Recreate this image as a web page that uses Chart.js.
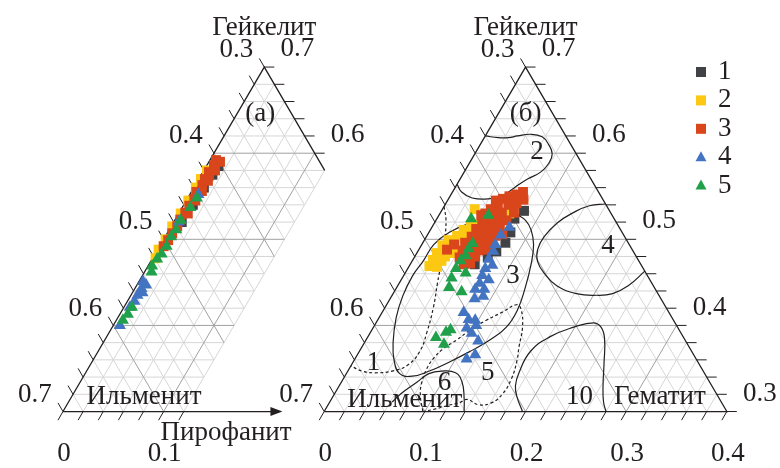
<!DOCTYPE html>
<html><head><meta charset="utf-8">
<script src="https://cdn.jsdelivr.net/npm/chart.js@4.4.1/dist/chart.umd.min.js"></script>
<style>html,body{margin:0;padding:0;background:#fff}canvas{display:block}</style>
</head><body>
<canvas id="c" width="780" height="468"></canvas>
<script>
// Ternary values: [c, b]  c = Пирофанит (bottom axis), b = right-axis fraction, left-axis = 1 - b - c
const panelA_series1 = [[0.010,0.560],[0.009,0.540],[0.011,0.575],[0.008,0.520],[0.012,0.585]];
const panelA_series2 = [[0.002,0.570],[0.002,0.560],[0.002,0.545],[0.002,0.530],[0.001,0.515],[0.002,0.500],[0.001,0.488],[0.003,0.478],[0.003,0.580]];
const panelA_series3 = [[0.006,0.592],[0.007,0.586],[0.006,0.578],[0.008,0.574],[0.006,0.570],[0.007,0.563],[0.005,0.555],[0.007,0.547],[0.006,0.539],[0.006,0.531],[0.005,0.523],[0.006,0.515],[0.005,0.507],[0.005,0.499],[0.004,0.492],[0.011,0.590],[0.011,0.580],[0.010,0.568],[0.010,0.556],[0.009,0.545],[0.009,0.530]];
const panelA_series4 = [[0.0085,0.552],[0.005,0.520],[0.004,0.451],[0.009,0.447],[0.0065,0.443],[0.010,0.438],[0.0065,0.435],[0.007,0.428],[0.006,0.421],[0.0065,0.400]];
const panelA_series5 = [[0.009,0.548],[0.008,0.537],[0.006,0.522],[0.007,0.511],[0.006,0.503],[0.007,0.492],[0.0065,0.483],[0.005,0.477],[0.004,0.469],[0.007,0.462],[0.008,0.421],[0.008,0.413],[0.0065,0.406]];

const panelB_series1 = [[0.082,0.533],[0.077,0.524],[0.081,0.508],[0.082,0.496],[0.078,0.486],[0.073,0.479],[0.064,0.471]];
const panelB_series2 = [[0.032,0.535],[0.069,0.530],[0.020,0.469],[0.028,0.468],[0.020,0.476],[0.029,0.475],[0.020,0.484],[0.030,0.480],[0.021,0.493],[0.024,0.499],[0.030,0.504],[0.036,0.484],[0.033,0.511],[0.038,0.515],[0.044,0.517],[0.035,0.502],[0.041,0.505],[0.034,0.492]];
const panelB_series3 = [[0.054,0.547],[0.059,0.550],[0.065,0.552],[0.070,0.555],[0.075,0.546],[0.070,0.542],[0.063,0.540],[0.053,0.539],[0.048,0.535],[0.045,0.530],[0.054,0.529],[0.061,0.531],[0.073,0.531],[0.070,0.522],[0.062,0.522],[0.054,0.521],[0.047,0.520],[0.045,0.512],[0.053,0.512],[0.060,0.513],[0.068,0.513],[0.074,0.506],[0.068,0.504],[0.060,0.504],[0.052,0.504],[0.045,0.503],[0.042,0.496],[0.051,0.495],[0.059,0.495],[0.066,0.496],[0.067,0.488],[0.060,0.487],[0.052,0.487],[0.044,0.487],[0.045,0.479],[0.053,0.479],[0.060,0.480],[0.059,0.472],[0.053,0.471],[0.028,0.488],[0.032,0.494],[0.048,0.545],[0.042,0.528]];
const panelB_series4 = [[0.077,0.514],[0.073,0.505],[0.073,0.494],[0.075,0.486],[0.075,0.477],[0.082,0.470],[0.077,0.466],[0.078,0.458],[0.087,0.453],[0.080,0.449],[0.079,0.442],[0.088,0.442],[0.084,0.431],[0.091,0.434],[0.081,0.415],[0.090,0.407],[0.097,0.406],[0.093,0.397],[0.101,0.400],[0.101,0.391],[0.112,0.382],[0.117,0.366],[0.111,0.361]];
const panelB_series5 = [[0.034,0.524],[0.049,0.528],[0.050,0.495],[0.049,0.489],[0.050,0.481],[0.048,0.475],[0.048,0.466],[0.060,0.461],[0.049,0.455],[0.052,0.444],[0.067,0.439],[0.068,0.386],[0.075,0.392],[0.078,0.395],[0.080,0.378]];

// Contour lines (panel б)
const contour2 = [[0,0.620],[0.014,0.618],[0.024,0.618],[0.032,0.620],[0.044,0.622],[0.057,0.619],[0.068,0.610],[0.077,0.599],[0.079,0.588],[0.076,0.578],[0.067,0.570],[0.059,0.560],[0.052,0.551],[0.040,0.547],[0.023,0.548],[0.009,0.555],[0,0.564]];
const contour4 = [[0.159,0.541],[0.144,0.539],[0.132,0.531],[0.122,0.519],[0.117,0.503],[0.118,0.488],[0.125,0.474],[0.139,0.460],[0.158,0.446],[0.182,0.437],[0.203,0.435],[0.218,0.437],[0.229,0.446],[0.237,0.463]];
const contour3 = [[0.075,0.530],[0.089,0.522],[0.100,0.511],[0.111,0.494],[0.120,0.471],[0.128,0.443],[0.133,0.418],[0.132,0.398],[0.123,0.383],[0.109,0.369],[0.095,0.357],[0.081,0.347],[0.067,0.341],[0.053,0.344],[0.040,0.359],[0.028,0.381],[0.017,0.409],[0.011,0.434],[0.009,0.457],[0.011,0.475],[0.012,0.494],[0.020,0.508],[0.038,0.520],[0.059,0.528],[0.075,0.530]];
const contour1 = [[0,0.538],[0.010,0.522],[0.020,0.499],[0.029,0.475],[0.038,0.449],[0.048,0.421],[0.056,0.392],[0.060,0.370],[0.056,0.354],[0.044,0.347],[0.028,0.345],[0.014,0.347],[0,0.353]];
const contour5 = [[0.098,0.300],[0.086,0.319],[0.080,0.334],[0.077,0.350],[0.078,0.363],[0.082,0.373],[0.090,0.383],[0.098,0.395],[0.108,0.406],[0.120,0.416],[0.129,0.424],[0.136,0.419],[0.148,0.398],[0.156,0.375],[0.162,0.359],[0.167,0.338],[0.167,0.321],[0.161,0.310],[0.149,0.308],[0.135,0.314],[0.129,0.310],[0.119,0.307],[0.109,0.303],[0.098,0.300]];
const contour6 = [[0.062,0.311],[0.066,0.321],[0.075,0.334],[0.082,0.344],[0.093,0.347],[0.108,0.345],[0.120,0.334],[0.131,0.316],[0.139,0.300]];
const contour10 = [[0.197,0.300],[0.183,0.317],[0.175,0.330],[0.171,0.345],[0.170,0.370],[0.181,0.387],[0.199,0.398],[0.216,0.403],[0.226,0.398],[0.236,0.385],[0.250,0.356],[0.262,0.330],[0.272,0.311],[0.280,0.300]];

// Contour labels [text, c, b]
const contourLabels = [["2",0.061,0.601],["3",0.109,0.457],["4",0.186,0.492],["1",0.021,0.356],["5",0.140,0.345],["6",0.103,0.333],["10",0.245,0.317]];

// Tick labels
const leftLabelsA = [0.3,0.4,0.5,0.6,0.7];
const rightLabelsA = [0.7,0.6];
const bottomLabelsA = [0,0.1];
const leftLabelsB = [0.3,0.4,0.5,0.6,0.7];
const rightLabelsB = [0.7,0.6,0.5,0.4,0.3];
const bottomLabelsB = [0,0.1,0.2,0.3,0.4];
const legendLabels = ["1","2","3","4","5"];

const COLORS = ['#404245','#fcc812','#d9461c','#4374c1','#20a04a'];
const STYLES = ['rect','rect','rect','triangle','triangle'];
const ORDERS = [5,4,3,2,1];

const SQ3 = Math.sqrt(3);
const OFF_A = 0, OFF_B = 266/1025;
const CMAX_A = 0.12, CMAX_B = 0.4;
const ARROW_C = 0.218;
function tx(off, c, b){ return {x: off + c + (b-0.3)/2, y: (b-0.3)*SQ3/2}; }
const pts = (off, arr) => arr.map(p => tx(off, p[0], p[1]));

function series(off, arr, i){
  return {label: legendLabels[i], data: pts(off, arr), backgroundColor: COLORS[i], borderColor: COLORS[i],
    pointStyle: STYLES[i], pointRadius: 7, pointHoverRadius: 7, pointBorderWidth: 0, borderWidth: 0,
    showLine: false, order: ORDERS[i]};
}
function contour(arr, dashed){
  return {label: '', data: pts(OFF_B, arr), showLine: true, borderColor: '#231f20', borderWidth: 1.2,
    borderDash: dashed ? [3,2.5] : [], pointRadius: 0, pointHoverRadius: 0, tension: 0.45, fill: false, order: 10};
}

const datasets = [
  contour(contour2,false), contour(contour4,false), contour(contour3,false), contour(contour6,false), contour(contour10,false),
  contour(contour1,true), contour(contour5,true),
  series(OFF_A, panelA_series1, 0), series(OFF_A, panelA_series2, 1), series(OFF_A, panelA_series3, 2), series(OFF_A, panelA_series4, 3), series(OFF_A, panelA_series5, 4),
  series(OFF_B, panelB_series1, 0), series(OFF_B, panelB_series2, 1), series(OFF_B, panelB_series3, 2), series(OFF_B, panelB_series4, 3), series(OFF_B, panelB_series5, 4)
];

const INK = '#231f20';
const FONT = '27px "Liberation Serif", "Times New Roman", serif';

function px(chart, off, c, b){
  const p = tx(off, c, b);
  return [chart.scales.x.getPixelForValue(p.x), chart.scales.y.getPixelForValue(p.y)];
}
function isMajor(v){ return Math.abs(v*10 - Math.round(v*10)) < 1e-6; }

function drawGrid(chart, off, cmax){
  const ctx = chart.ctx;
  [false, true].forEach(major => {
    ctx.beginPath();
    const add = (c1,b1,c2,b2) => { const p1 = px(chart,off,c1,b1), p2 = px(chart,off,c2,b2); ctx.moveTo(p1[0],p1[1]); ctx.lineTo(p2[0],p2[1]); };
    for (let k = 1; k < 20; k++){
      const v = +(0.3 + k*0.02).toFixed(2);
      if (isMajor(v) !== major) continue;
      const ce = Math.min(0.7 - v, cmax);
      add(0, v, ce, v);
      add(0, 1 - v, ce, 1 - v - ce);
    }
    for (let k = 1; k < 20; k++){
      const cv = +(k*0.02).toFixed(2);
      if (cv > cmax + 1e-9) break;
      if (isMajor(cv) !== major) continue;
      add(cv, 0.3, cv, 0.7 - cv);
    }
    ctx.strokeStyle = major ? '#a0a0a0' : '#d6d6d6';
    ctx.lineWidth = 1;
    ctx.stroke();
  });
}

function drawFrame(chart, off, cmax, arrow){
  const ctx = chart.ctx;
  ctx.strokeStyle = INK; ctx.fillStyle = INK; ctx.lineWidth = 1.3;
  const bl = px(chart,off,0,0.3), ap = px(chart,off,0,0.7), re = px(chart,off,cmax,0.7-cmax);
  ctx.beginPath();
  ctx.moveTo(bl[0],bl[1]); ctx.lineTo(ap[0],ap[1]); ctx.lineTo(re[0],re[1]);
  if (!arrow) { ctx.lineTo(bl[0],bl[1]); }
  ctx.stroke();
  if (arrow){
    const ae = px(chart,off,ARROW_C,0.3);
    ctx.beginPath(); ctx.moveTo(bl[0],bl[1]); ctx.lineTo(ae[0]-8,ae[1]); ctx.stroke();
    ctx.beginPath(); ctx.moveTo(ae[0],ae[1]); ctx.lineTo(ae[0]-12,ae[1]-4.5); ctx.lineTo(ae[0]-12,ae[1]+4.5); ctx.closePath(); ctx.fill();
  }
  ctx.lineWidth = 1; ctx.beginPath();
  const L = 10;
  for (let k = 0; k <= 20; k++){
    const b = 0.3 + k*0.02;
    const p = px(chart,off,0,b);
    ctx.moveTo(p[0],p[1]); ctx.lineTo(p[0]-L*0.5, p[1]-L*SQ3/2);
  }
  for (let k = 0; k <= 20; k++){
    const b = +(0.7 - k*0.02).toFixed(2);
    if (0.7 - b > cmax + 1e-9) break;
    if (arrow && b < 0.6 - 1e-9) break;
    const p = px(chart,off,0.7-b,b);
    ctx.moveTo(p[0],p[1]); ctx.lineTo(p[0]+L, p[1]);
  }
  for (let k = 0; k <= 20; k++){
    const c = k*0.02;
    if (c > cmax + 1e-9) break;
    const p = px(chart,off,c,0.3);
    ctx.moveTo(p[0],p[1]); ctx.lineTo(p[0]-L*0.5, p[1]+L*SQ3/2);
  }
  ctx.stroke();
}

function fmt(v){ return v === 0 ? '0' : v.toFixed(1); }

function drawLabels(chart, off, left, right, bottom){
  const ctx = chart.ctx;
  ctx.fillStyle = INK; ctx.font = FONT; ctx.textAlign = 'center'; ctx.textBaseline = 'middle';
  left.forEach(a => { const p = px(chart,off,0,1-a); ctx.fillText(fmt(a), p[0]-28, p[1]-17); });
  right.forEach(b => { const p = px(chart,off,0.7-b,b); ctx.fillText(fmt(b), p[0]+33, p[1]-18); });
  bottom.forEach(c => { const p = px(chart,off,c,0.3); ctx.fillText(fmt(c), p[0]+1, p[1]+42); });
  const ap = px(chart,off,0,0.7);
  ctx.fillText('Гейкелит', ap[0], ap[1]-39);
}

const ternaryPlugin = {
  id: 'ternary',
  beforeDatasetsDraw(chart){
    drawGrid(chart, OFF_A, CMAX_A);
    drawGrid(chart, OFF_B, CMAX_B);
    drawFrame(chart, OFF_A, CMAX_A, true);
    drawFrame(chart, OFF_B, CMAX_B, false);
  },
  afterDatasetsDraw(chart){
    const ctx = chart.ctx;
    drawLabels(chart, OFF_A, leftLabelsA, rightLabelsA, bottomLabelsA);
    drawLabels(chart, OFF_B, leftLabelsB, rightLabelsB, bottomLabelsB);
    ctx.font = FONT; ctx.fillStyle = INK; ctx.textAlign = 'center'; ctx.textBaseline = 'middle';
    let p = px(chart,OFF_A,0.023,0.646); ctx.fillText('(а)', p[0], p[1]);
    p = px(chart,OFF_B,0.027,0.646); ctx.fillText('(б)', p[0], p[1]);
    p = px(chart,OFF_A,0.072,0.317); ctx.fillText('Ильменит', p[0], p[1]);
    p = px(chart,OFF_B,0.073,0.314); ctx.fillText('Ильменит', p[0], p[1]);
    p = px(chart,OFF_B,0.325,0.317); ctx.fillText('Гематит', p[0], p[1]);
    p = px(chart,OFF_A,0.162,0.3); ctx.fillText('Пирофанит', p[0], p[1]+21);
    contourLabels.forEach(l => { const q = px(chart,OFF_B,l[1],l[2]); ctx.fillText(l[0], q[0], q[1]); });
    const lx = chart.chartArea.right - 72, ly0 = chart.chartArea.top + 65, dy = 28.4;
    legendLabels.forEach((t, i) => {
      const y = ly0 + i*dy;
      ctx.fillStyle = COLORS[i];
      if (STYLES[i] === 'rect') { ctx.fillRect(lx-5, y-5, 10, 10); }
      else { ctx.beginPath(); ctx.moveTo(lx, y-6); ctx.lineTo(lx+5.5, y+4); ctx.lineTo(lx-5.5, y+4); ctx.closePath(); ctx.fill(); }
      ctx.fillStyle = INK; ctx.textAlign = 'left';
      ctx.fillText(t, lx+17, y);
    });
  }
};

new Chart(document.getElementById('c'), {
  type: 'scatter',
  data: { datasets },
  options: {
    responsive: false, animation: false, devicePixelRatio: 1,
    layout: { padding: 0 },
    plugins: { legend: { display: false }, tooltip: { enabled: false } },
    scales: {
      x: { type: 'linear', min: -57/1025, max: 723/1025, display: false },
      y: { type: 'linear', min: -51/1025, max: 417/1025, display: false }
    }
  },
  plugins: [ternaryPlugin]
});
</script>
</body></html>
